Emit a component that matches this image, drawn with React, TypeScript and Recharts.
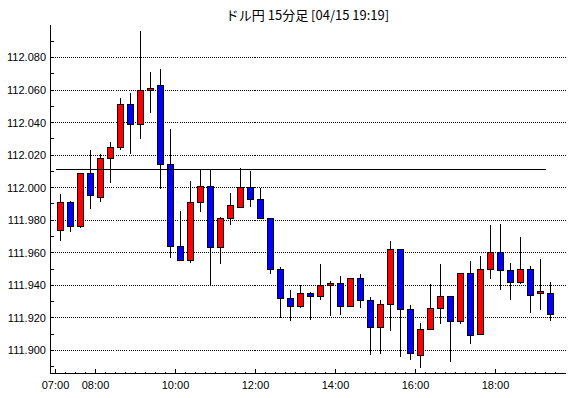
import { ComposedChart, Bar, XAxis, YAxis, CartesianGrid, ReferenceLine } from "recharts";

// USD/JPY 15-minute candles, 07:00 .. 19:15
const opens = [
  111.974, 111.991, 111.976, 112.009, 111.994, 112.018, 112.025, 112.051, 112.039, 112.06,
  112.063, 112.014, 111.964, 111.955, 111.991, 112.001, 111.963, 111.981, 111.988, 112.0,
  111.993, 111.981, 111.95, 111.932, 111.927, 111.935, 111.933, 111.94, 111.941, 111.927,
  111.944, 111.931, 111.914, 111.928, 111.962, 111.925, 111.897, 111.913, 111.926, 111.933,
  111.918, 111.947, 111.91, 111.95, 111.96, 111.949, 111.942, 111.95, 111.935, 111.935,
];
const highs = [
  111.996, 111.992, 112.009, 112.023, 112.021, 112.028, 112.055, 112.058, 112.096, 112.071,
  112.073, 112.036, 111.986, 112.004, 112.011, 112.011, 111.982, 111.997, 112.012, 112.01,
  112.0, 111.981, 111.951, 111.937, 111.94, 111.936, 111.953, 111.943, 111.946, 111.944,
  111.947, 111.933, 111.931, 111.967, 111.962, 111.928, 111.917, 111.941, 111.953, 111.933,
  111.947, 111.955, 111.958, 111.977, 111.978, 111.954, 111.97, 111.952, 111.956, 111.942,
];
const lows = [
  111.967, 111.973, 111.975, 111.987, 111.991, 112.003, 112.023, 112.021, 112.03, 112.046,
  111.999, 111.957, 111.955, 111.954, 111.985, 111.94, 111.953, 111.977, 111.988, 111.988,
  111.981, 111.947, 111.92, 111.918, 111.926, 111.919, 111.931, 111.921, 111.922, 111.927,
  111.926, 111.897, 111.898, 111.912, 111.896, 111.894, 111.889, 111.913, 111.916, 111.893,
  111.916, 111.904, 111.91, 111.944, 111.937, 111.931, 111.941, 111.923, 111.925, 111.918,
];
const closes = [
  111.991, 111.976, 112.009, 111.995, 112.018, 112.025, 112.051, 112.039, 112.06, 112.061,
  112.014, 111.964, 111.955, 111.991, 112.001, 111.963, 111.981, 111.989, 112.0, 111.993,
  111.981, 111.95, 111.932, 111.927, 111.935, 111.933, 111.94, 111.941, 111.927, 111.944,
  111.931, 111.914, 111.928, 111.962, 111.925, 111.898, 111.913, 111.926, 111.933, 111.918,
  111.947, 111.909, 111.95, 111.96, 111.949, 111.942, 111.95, 111.934, 111.936, 111.922,
];

const hourLabels = ["07:00", "08:00", "10:00", "12:00", "14:00", "16:00", "18:00"];
const yLabels = [111.9, 111.92, 111.94, 111.96, 111.98, 112.0, 112.02, 112.04, 112.06, 112.08];
const yTicks = [
  111.89, 111.9, 111.91, 111.92, 111.93, 111.94, 111.95, 111.96, 111.97, 111.98, 111.99,
  112.0, 112.01, 112.02, 112.03, 112.04, 112.05, 112.06, 112.07, 112.08, 112.09,
];
const levelPrice = 112.011;
const levelFrom = "07:00";
const levelTo = "19:15";
const title = "ドル円 15分足 [04/15 19:19]";

const UP = "#ff0000";
const DOWN = "#0000ff";
const FONT = "'Liberation Sans', Arial, sans-serif";

const data = opens.map((o, i) => ({ i, o, h: highs[i], l: lows[i], c: closes[i] }));

// candle i covers the quarter hour starting at 07:00 + 15*i min, drawn at its middle
const slotIndex = (t: string) => {
  const [hh, mm] = t.split(":").map(Number);
  return ((hh - 7) * 60 + mm) / 15 - 0.5;
};
const quarterTicks = Array.from({ length: 51 }, (_, k) => k - 0.5);
const labelAt = (v: number) => hourLabels.find((t) => Math.abs(slotIndex(t) - v) < 1e-6);

function Candle(props: any) {
  const { x, y, width, height, payload } = props;
  const { o, h, l, c } = payload;
  const cx = x + width / 2;
  const top = Math.min(y, y + height);
  const bottom = Math.max(y, y + height);
  const px = (p: number) => top + ((h - p) / (h - l)) * (bottom - top);
  const bTop = px(Math.max(o, c));
  const bBot = Math.max(px(Math.min(o, c)), bTop + 1);
  return (
    <g shapeRendering="crispEdges">
      <line x1={cx} x2={cx} y1={top} y2={bottom} stroke="#000" />
      <rect
        x={cx - 3}
        y={bTop}
        width={6}
        height={bBot - bTop}
        fill={c >= o ? UP : DOWN}
        stroke="#000"
      />
    </g>
  );
}

function BottomTick(props: any) {
  const { x, y, payload } = props;
  const label = labelAt(payload.value);
  return (
    <g>
      <line x1={x} x2={x} y1={y} y2={y - (label ? 5 : 2)} stroke="#000" shapeRendering="crispEdges" />
      {label && (
        <text x={x} y={y + 15} textAnchor="middle" fontSize={11} fontFamily={FONT} fill="#000">
          {label}
        </text>
      )}
    </g>
  );
}

function TopTick(props: any) {
  const { x, y, payload } = props;
  const label = labelAt(payload.value);
  return (
    <line x1={x} x2={x} y1={y} y2={y + (label ? 5 : 2)} stroke="#000" shapeRendering="crispEdges" />
  );
}

function LeftTick(props: any) {
  const { x, y, payload } = props;
  const isLabel = yLabels.some((v) => Math.abs(v - payload.value) < 1e-6);
  return (
    <g>
      <line x1={x} x2={x + 3} y1={y} y2={y} stroke="#000" shapeRendering="crispEdges" />
      {isLabel && (
        <text x={x - 4.5} y={y + 4} textAnchor="end" fontSize={11} fontFamily={FONT} fill="#000">
          {payload.value.toFixed(3)}
        </text>
      )}
    </g>
  );
}

function RightTick(props: any) {
  const { x, y } = props;
  return <line x1={x} x2={x - 3} y1={y} y2={y} stroke="#000" shapeRendering="crispEdges" />;
}

export default function App() {
  const yDomain = [111.88587, 112.10027];
  const xDomain = [-1, 50.5];
  const axisLine = { stroke: "#000", shapeRendering: "crispEdges" };
  return (
    <div style={{ position: "absolute", left: 0, top: 0, width: 570, height: 398, background: "#fff" }}>
      <div
        style={{
          position: "absolute",
          left: 307.5,
          top: 8,
          transform: "translateX(-50%)",
          whiteSpace: "nowrap",
          fontFamily: "'Noto Sans CJK JP', sans-serif",
          fontSize: 13,
          lineHeight: "14px",
          color: "#000",
        }}
      >
        {title}
      </div>
      <ComposedChart
        width={570}
        height={398}
        data={data}
        margin={{ top: 24.5, right: 4.5, bottom: 0, left: 0 }}
      >
        <CartesianGrid
          xAxisId="bottom"
          yAxisId="left"
          vertical={false}
          horizontalValues={yLabels}
          stroke="#000"
          strokeDasharray="1 1"
          shapeRendering="crispEdges"
        />
        <XAxis
          xAxisId="bottom"
          dataKey="i"
          type="number"
          domain={xDomain}
          allowDataOverflow
          ticks={quarterTicks}
          interval={0}
          tick={<BottomTick />}
          tickLine={false}
          tickSize={0}
          tickMargin={0}
          axisLine={axisLine}
          height={24.5}
        />
        <XAxis
          xAxisId="top"
          orientation="top"
          dataKey="i"
          type="number"
          domain={xDomain}
          allowDataOverflow
          ticks={quarterTicks}
          interval={0}
          tick={<TopTick />}
          tickLine={false}
          tickSize={0}
          tickMargin={0}
          axisLine={axisLine}
          height={0}
        />
        <YAxis
          yAxisId="left"
          type="number"
          domain={yDomain}
          allowDataOverflow
          ticks={yTicks}
          interval={0}
          tick={<LeftTick />}
          tickLine={false}
          tickSize={0}
          tickMargin={0}
          axisLine={axisLine}
          width={50.5}
        />
        <YAxis
          yAxisId="right"
          orientation="right"
          type="number"
          domain={yDomain}
          allowDataOverflow
          ticks={yTicks}
          interval={0}
          tick={<RightTick />}
          tickLine={false}
          tickSize={0}
          tickMargin={0}
          axisLine={axisLine}
          width={0}
        />
        <Bar
          xAxisId="bottom"
          yAxisId="left"
          dataKey={(d: any) => [d.l, d.h]}
          barSize={6}
          shape={<Candle />}
          isAnimationActive={false}
        />
        <ReferenceLine
          xAxisId="bottom"
          yAxisId="left"
          segment={[
            { x: slotIndex(levelFrom), y: levelPrice },
            { x: slotIndex(levelTo), y: levelPrice },
          ]}
          stroke="#000"
          shapeRendering="crispEdges"
        />
      </ComposedChart>
    </div>
  );
}
